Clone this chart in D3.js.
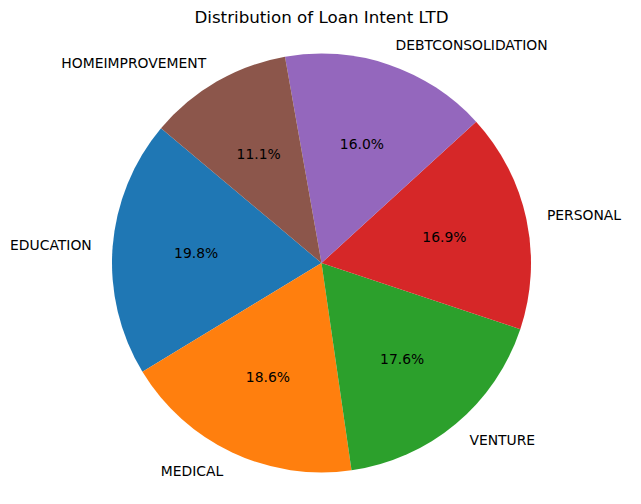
<!DOCTYPE html>
<html><head><meta charset="utf-8">
<script src="https://cdn.jsdelivr.net/npm/d3@7"></script>
<style>body{margin:0;background:#fff;}svg{display:block;}</style>
</head><body>
<svg id="chart" width="641" height="504"></svg>
<script>
const categories = ["EDUCATION", "MEDICAL", "VENTURE", "PERSONAL", "DEBTCONSOLIDATION", "HOMEIMPROVEMENT"];
const values = [19.8, 18.6, 17.6, 16.9, 16.0, 11.1];
const colors = ["#1f77b4", "#ff7f0e", "#2ca02c", "#d62728", "#9467bd", "#8c564b"];
const title = "Distribution of Loan Intent LTD";

const svg = d3.select("#chart");
const cx = 321.5, cy = 263, R = 209.5;
const startDeg = 140;
const font = "DejaVu Sans, sans-serif";

const total = d3.sum(values);
// cumulative fraction -> matplotlib angle (deg, ccw from +x)
const angScale = d3.scaleLinear().domain([0, total]).range([startDeg, startDeg + 360]);
const toD3 = deg => (90 - deg) * Math.PI / 180;

let cum = 0;
const slices = values.map((v, i) => {
  const a0 = angScale(cum), a1 = angScale(cum + v);
  cum += v;
  return {i, v, a0, a1, mid: (a0 + a1) / 2};
});

const arc = d3.arc().innerRadius(0).outerRadius(R);
const g = svg.append("g").attr("transform", `translate(${cx},${cy})`);

g.selectAll("path").data(slices).join("path")
  .attr("d", d => arc({startAngle: toD3(d.a1), endAngle: toD3(d.a0)}))
  .attr("fill", d => colors[d.i]);

const fmt = d3.format(".1f");
g.selectAll("text.pct").data(slices).join("text")
  .attr("class", "pct")
  .attr("x", d => 0.6 * R * Math.cos(d.mid * Math.PI / 180))
  .attr("y", d => -0.6 * R * Math.sin(d.mid * Math.PI / 180))
  .attr("text-anchor", "middle")
  .attr("dominant-baseline", "central")
  .style("font-family", font).style("font-size", "13.9px").attr("fill", "#000")
  .text(d => fmt(d.v / total * 100) + "%");

g.selectAll("text.lbl").data(slices).join("text")
  .attr("class", "lbl")
  .attr("x", d => 1.1 * R * Math.cos(d.mid * Math.PI / 180))
  .attr("y", d => -1.1 * R * Math.sin(d.mid * Math.PI / 180))
  .attr("text-anchor", d => Math.cos(d.mid * Math.PI / 180) > 0 ? "start" : "end")
  .attr("dominant-baseline", "central")
  .style("font-family", font).style("font-size", "13.9px").attr("fill", "#000")
  .text(d => categories[d.i]);

svg.append("text")
  .attr("x", cx).attr("y", 23)
  .attr("text-anchor", "middle")
  .style("font-family", font).style("font-size", "16.7px").attr("fill", "#000")
  .text(title);
</script>
</body></html>
